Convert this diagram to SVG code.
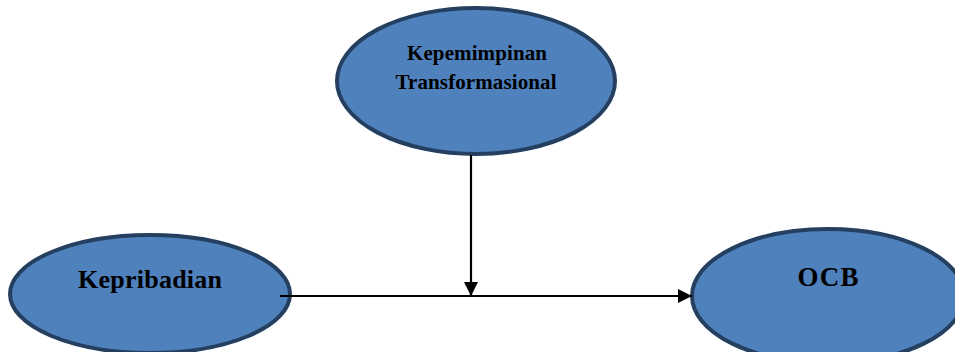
<svg xmlns="http://www.w3.org/2000/svg" width="955" height="352" viewBox="0 0 955 352">
<style>
.node ellipse{fill:#4F81BD;stroke:#243F60;stroke-width:4}
.lbl{font-family:"Liberation Serif","Times New Roman",serif;font-weight:bold;fill:#000;text-anchor:middle}
.conn line{stroke:#000;stroke-width:2.2}
</style>
<defs>
<marker id="ah" viewBox="0 0 10 10" refX="10" refY="5" markerWidth="6.5" markerHeight="6.5" markerUnits="strokeWidth" orient="auto">
<path d="M0,0 L10,5 L0,10 z" fill="#000"/>
</marker>
</defs>
<rect width="955" height="352" fill="#fff"/>
<g id="node-kepemimpinan" class="node">
<ellipse cx="476" cy="81" rx="139" ry="73"/>
<text class="lbl" x="477" y="60" font-size="21" textLength="140">Kepemimpinan</text>
<text class="lbl" x="476" y="89" font-size="21" textLength="161">Transformasional</text>
</g>
<g id="node-kepribadian" class="node">
<ellipse cx="150" cy="294" rx="140" ry="59"/>
<text class="lbl" x="150" y="288" font-size="26" textLength="144">Kepribadian</text>
</g>
<g id="node-ocb" class="node">
<ellipse cx="828" cy="296" rx="136" ry="67"/>
<text class="lbl" x="828" y="286" font-size="27" textLength="61">OCB</text>
</g>
<g id="connectors" class="conn">
<line x1="280" y1="296" x2="692" y2="296" marker-end="url(#ah)"/>
<line x1="471" y1="155" x2="471" y2="296" marker-end="url(#ah)"/>
</g>
</svg>
